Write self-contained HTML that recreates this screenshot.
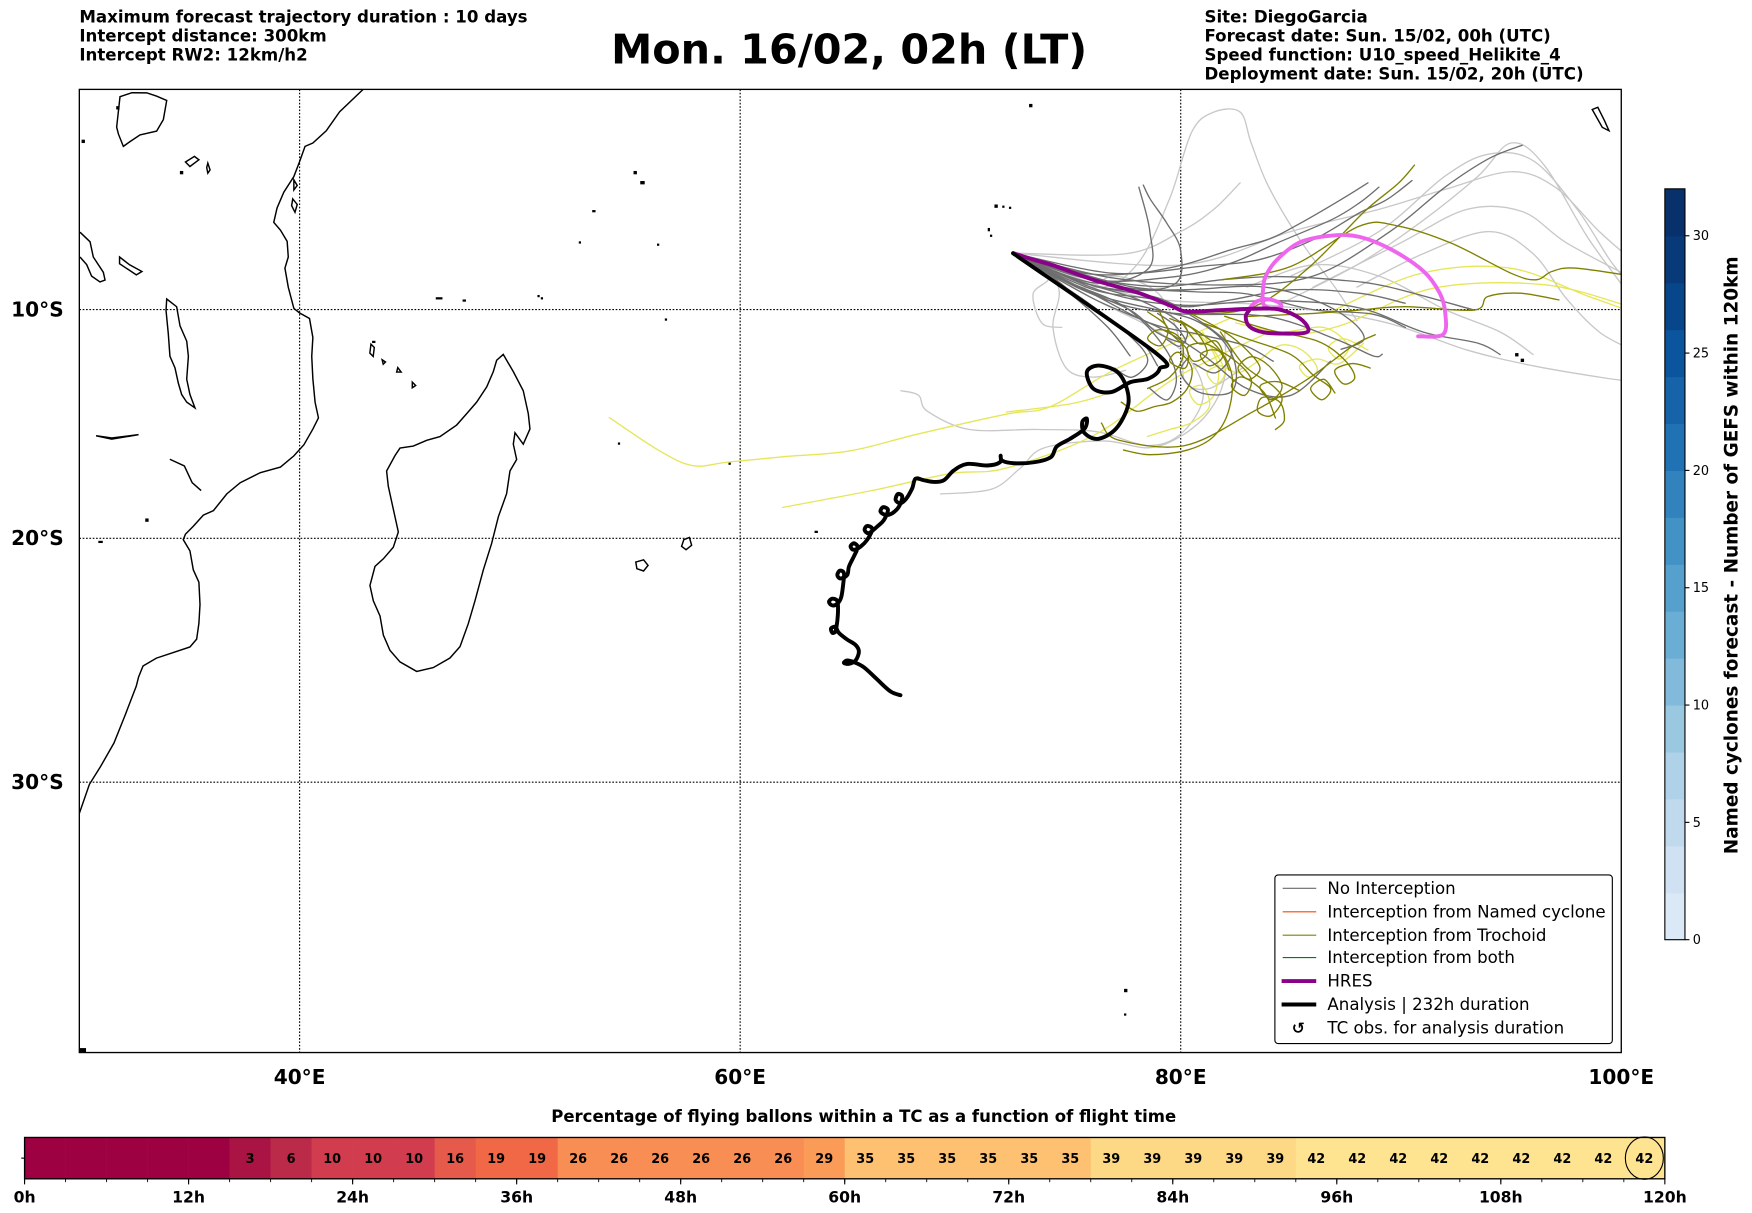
<!DOCTYPE html>
<html><head><meta charset="utf-8">
<style>
html,body{margin:0;padding:0;background:#fff;}
svg{display:block;font-family:"DejaVu Sans","Liberation Sans",sans-serif;}
.hdr{font-size:14.9px;font-weight:bold;}
</style></head>
<body>
<svg id="fig" width="1752" height="1213" viewBox="0 0 1568 1085.6" xmlns="http://www.w3.org/2000/svg">
<defs><clipPath id="plotclip"><rect x="71" y="80" width="1380" height="862"/></clipPath></defs>
<g class="hdr">
<text x="71" y="20">Maximum forecast trajectory duration : 10 days</text>
<text x="71" y="37">Intercept distance: 300km</text>
<text x="71" y="54">Intercept RW2: 12km/h2</text>
</g>
<text x="760" y="57" text-anchor="middle" font-size="37" font-weight="bold">Mon. 16/02, 02h (LT)</text>
<g class="hdr">
<text x="1078" y="20">Site: DiegoGarcia</text>
<text x="1078" y="37">Forecast date: Sun. 15/02, 00h (UTC)</text>
<text x="1078" y="54">Speed function: U10_speed_Helikite_4</text>
<text x="1078" y="71">Deployment date: Sun. 15/02, 20h (UTC)</text>
</g>
<g id="map">
<rect x="71" y="80" width="1380" height="862" fill="#fff"/>
<g fill="none" stroke="#000" stroke-width="1.3" clip-path="url(#plotclip)">
<path d="M325,80 L304,100 L292,117 L280,128 L273,131 L268,145 L263,158 L254,172 L248,186 L245,199 L251,206 L257,216 L258,230 L255,240 L258,257 L263,276 L268,280 L277,285 L280,302 L279,319 L280,339 L282,360 L285,374 L280,384 L272,398 L263,408 L251,418 L233,423 L215,432 L203,442 L191,457 L182,461 L173,471 L166,478 L164,483 L170,493 L173,510 L178,521 L179,541 L178,558 L176,572 L170,579 L155,584 L140,589 L128,596 L124,606 L122,614 L112,640 L102,665 L90,686 L80,702 L71,728"/>
<path d="M450.4,317.2 L459.4,332.6 L468.3,349.7 L472.8,370.2 L474.3,383.9 L468.3,397.5 L460.9,387.3 L459.4,397.5 L462.4,411.2 L456.4,421.5 L453.4,441.9 L446,462.5 L440,486.4 L432.5,510.3 L425.1,537.7 L419.1,558.2 L411.7,578.7 L402.7,588.9 L387.8,597.5 L372.9,600.9 L358,592.4 L349,582.1 L343.1,568.4 L340.1,551.3 L334.1,537.7 L331.1,524 L335.6,506.9 L343.1,500.1 L352,489.8 L356.5,476.1 L353.5,462.5 L350.5,448.8 L347.5,435.1 L346,421.5 L353.5,407.8 L358,401 L369.9,399.2 L381.9,394.1 L393.8,390.7 L408.7,380.4 L417.7,370.2 L426.6,359.9 L435.6,346.3 L441.5,332.6 L444.5,322.4 Z"/>
<path d="M149.2,267.6 L158.1,274.5 L161.1,291.6 L167.1,305.3 L168.6,318.9 L167.1,339.4 L170,353.1 L174.5,365.1 L167.1,359.9 L162.6,353.1 L159.6,342.9 L156.6,329.2 L152.1,318.9 L150.6,298.4 L148.6,277.9 Z"/>
<path d="M71.6,207.8 L80.6,216.4 L83.5,230 L92.5,243.7 L94,250.6 L89.5,252.3 L82,247.1 L77.6,236.9 L71.6,230"/>
<path d="M107.4,86.5 L118,83 L131.3,83.1 L140,86 L149.2,89.9 L146.2,107 L140.2,117.3 L125.3,120.7 L116,127 L110.4,131 L106,120 L104.4,113.8 Z"/>
<path d="M107,230 L116,237 L127,243 L122,246 L113,240 L107,236 Z"/>
<path d="M86,390 L100,392 L124,389 L100,393 Z"/>
<path d="M152,411 L165,417 L172,432 L180,439"/>
<path d="M262,178 L266,183 L264,190 L261,184 Z"/>
<path d="M263,161 L266,166 L263,170 Z"/>
<path d="M332,308 L335,311 L334,319 L331,316 Z M342,322 L345,324 L343,326 Z M356,329 L359,333 L355,333 Z M369,342 L372,345 L369,347 Z"/>
<path d="M166,145 L174,140 L178,143 L170,149 Z"/>
<path d="M186,146 L188,152 L186,155 L185,150 Z"/>
<path d="M569,503 L576,501 L580,506 L576,511 L570,509 Z"/>
<path d="M612,483 L617,481 L619,488 L614,492 L610,489 Z"/>
<path d="M1425,98 L1430,96 L1436,108 L1440,117 L1434,114 Z"/>
</g>
<g fill="#000" clip-path="url(#plotclip)">
<rect x="890" y="183" width="3" height="3"/><rect x="897" y="184" width="2" height="2"/><rect x="903" y="185" width="2" height="2"/>
<rect x="884" y="204" width="2" height="3"/><rect x="886" y="210" width="2" height="2"/>
<rect x="921" y="93" width="3" height="3"/><rect x="567" y="153" width="3" height="3"/><rect x="573" y="162" width="4" height="3"/>
<rect x="530" y="188" width="3" height="2"/><rect x="518" y="216" width="2" height="2"/><rect x="588" y="218" width="2" height="2"/>
<rect x="390" y="266" width="6" height="2"/><rect x="414" y="268" width="3" height="2"/><rect x="481" y="264" width="2" height="2"/>
<rect x="484" y="266" width="2" height="2"/><rect x="595" y="285" width="2" height="2"/><rect x="333" y="305" width="3" height="2"/>
<rect x="553" y="396" width="2" height="2"/><rect x="652" y="414" width="2" height="2"/><rect x="729" y="475" width="3" height="2"/>
<rect x="1356" y="316" width="3" height="3"/><rect x="1361" y="321" width="3" height="3"/>
<rect x="1006" y="885" width="3" height="3"/><rect x="1006" y="907" width="2" height="2"/>
<rect x="130" y="464" width="3" height="3"/><rect x="88" y="484" width="4" height="2"/><rect x="104" y="95" width="3" height="3"/>
<rect x="73" y="125" width="3" height="3"/><rect x="161" y="153" width="3" height="3"/><rect x="71" y="938" width="6" height="4"/>
</g>
<g id="grid" stroke="#000" stroke-width="1" stroke-dasharray="1.5,1.5" fill="none"></g>
<g id="traj" fill="none" clip-path="url(#plotclip)" stroke-linejoin="round" stroke-linecap="round"></g>
<rect x="71" y="80" width="1380" height="862" fill="none" stroke="#000" stroke-width="1.2"/>
<g id="axlabels" font-size="18" font-weight="bold"></g>
</g>
<g font-size="14.9">
<rect x="1141" y="783" width="302" height="151" rx="3" fill="#fff" stroke="#000" stroke-width="1"/>
<g><line x1="1148" y1="795" x2="1178" y2="795" stroke="#696969" stroke-width="1"/><text x="1188" y="800">No Interception</text></g>
<g><line x1="1148" y1="816" x2="1178" y2="816" stroke="#ff4500" stroke-width="1"/><text x="1188" y="821">Interception from Named cyclone</text></g>
<g><line x1="1148" y1="837" x2="1178" y2="837" stroke="#808000" stroke-width="1"/><text x="1188" y="842">Interception from Trochoid</text></g>
<g><line x1="1148" y1="857" x2="1178" y2="857" stroke="#008000" stroke-width="1"/><text x="1188" y="862">Interception from both</text></g>
<g><line x1="1147" y1="878" x2="1178" y2="878" stroke="#8b008b" stroke-width="3.5"/><text x="1188" y="883">HRES</text></g>
<g><line x1="1147" y1="899" x2="1178" y2="899" stroke="#000" stroke-width="3.5"/><text x="1188" y="904">Analysis | 232h duration</text></g>
<g><text x="1162" y="925" text-anchor="middle" font-weight="bold" font-size="14">↺</text><text x="1188" y="925">TC obs. for analysis duration</text></g>
</g>
<g id="cbar"></g>
<text transform="translate(1555,497) rotate(-90)" text-anchor="middle" font-size="16.5" font-weight="bold">Named cyclones forecast - Number of GEFS within 120km</text>
<text x="773" y="1004" text-anchor="middle" font-size="14.8" font-weight="bold">Percentage of flying ballons within a TC as a function of flight time</text>
<g id="hbar"></g>
</svg>
<script>
// ---- map data (lon / lat in degrees) ----
const lonTicks = [40, 60, 80, 100];
const lonTickLabels = ["40°E", "60°E", "80°E", "100°E"];
const latTicks = [-10, -20, -30];
const latTickLabels = ["10°S", "20°S", "30°S"];
const START = [72.38, -7.47];
const analysisLon = [72.39,78.83,79.04,78.53,77.72,76.85,76.04,75.74,76.24,77.06,77.51,77.61,77.06,76.24,75.63,75.53,75.74,75.63,74.97,74.37,74.10,73.34,72.43,71.90,71.82,71.79,71.22,70.31,69.70,69.25,68.80,68.34,67.96,67.81,67.55,67.28,67.06,67.16,67.36,67.21,66.90,66.60,66.37,66.49,66.71,66.53,66.22,65.84,65.65,65.77,66.00,65.77,65.47,65.16,65.01,65.16,65.34,65.16,64.94,64.86,64.56,64.41,64.53,64.71,64.68,64.59,64.41,64.18,64.03,64.18,64.41,64.44,64.41,64.33,64.18,64.13,64.33,64.48,64.86,65.24,65.39,65.24,64.94,64.71,64.86,65.16,65.62,66.22,66.83,67.28];
const analysisLat = [-7.48,-11.90,-12.63,-13.07,-13.22,-13.66,-13.51,-12.78,-12.49,-12.73,-13.37,-14.24,-15.27,-15.71,-15.46,-14.98,-14.83,-15.27,-15.71,-16.05,-16.51,-16.73,-16.77,-16.66,-16.44,-16.73,-16.87,-16.80,-17.08,-17.51,-17.58,-17.51,-17.44,-17.86,-18.29,-18.50,-18.36,-18.10,-18.22,-18.64,-18.93,-19.00,-18.86,-18.67,-18.79,-19.21,-19.50,-19.78,-19.64,-19.47,-19.61,-20.06,-20.35,-20.49,-20.35,-20.21,-20.38,-20.77,-21.20,-21.56,-21.70,-21.56,-21.37,-21.48,-21.91,-22.48,-22.76,-22.83,-22.69,-22.55,-22.65,-23.05,-23.47,-23.90,-23.97,-23.79,-23.73,-23.97,-24.25,-24.47,-24.75,-25.11,-25.25,-25.21,-25.11,-25.18,-25.39,-25.89,-26.38,-26.53];
const hresLon = [72.39,73.33,74.37,76.03,78.12,79.58,80.31,81.87,83.74,84.58,85.41,85.78,85.62,84.58,83.74,83.12,82.95,83.12];
const hresLat = [-7.47,-7.77,-8.07,-8.67,-9.27,-9.84,-10.09,-10.02,-9.95,-10.02,-10.39,-10.82,-11.04,-11.07,-11.01,-10.75,-10.31,-10.02];
const pinkLon = [83.12,83.43,83.95,84.47,84.53,84.06,83.74,83.74,83.85,84.37,85.41,86.87,88.12,89.58,91.03,91.76,92.01,91.91,90.78];
const pinkLat = [-9.95,-9.65,-9.54,-9.69,-9.90,-9.95,-9.72,-9.12,-8.52,-7.77,-6.98,-6.68,-6.74,-7.32,-8.29,-9.27,-10.17,-11.11,-11.19];
// ensemble members: [lon,lat] pairs
const noInterceptDark = [
 [START,[75.61,-8.52],[78.95,-8.97],[81.86,-8.67],[84.36,-8.52],[87.07,-8.67],[89.36,-8.97],[93.32,-10.02]],
 [START,[75.61,-8.82],[78.74,-9.42],[80.19,-9.87],[82.28,-9.57],[84.99,-9.12],[88.11,-9.27],[90.19,-9.72]],
 [START,[75.20,-8.97],[77.70,-10.02],[78.95,-11.04],[80.19,-11.48],[79.78,-10.75],[78.95,-10.17]],
 [START,[74.57,-8.97],[76.65,-10.75],[77.70,-12.06]],
 [START,[76.03,-9.27],[78.95,-10.02],[80.61,-10.46],[81.86,-11.33],[82.49,-12.50],[82.28,-13.66],[80.82,-13.66],[79.99,-12.79],[80.40,-12.06]],
 [START,[75.61,-8.37],[78.11,-8.37],[80.82,-8.07],[83.53,-7.77],[86.03,-6.86],[88.11,-5.66],[89.36,-5.06],[90.5,-4.2]],
 [START,[76.03,-8.67],[79.78,-8.52],[82.28,-7.92],[84.36,-7.02],[86.86,-5.96],[88.11,-5.21],[89,-4.5]],
 [START,[76.65,-9.57],[79.78,-10.17],[83.94,-10.31],[87.07,-11.33],[88.73,-12.06],[89.15,-11.99]],
 [START,[75.20,-8.67],[78.11,-9.57],[80.19,-10.75],[79.99,-11.62],[79.36,-11.33]],
 [START,[74.15,-8.52],[76.03,-10.02],[78.11,-11.33],[78.95,-12.50]],
 [START,[76.24,-8.97],[79.99,-9.12],[83.53,-8.97],[86.03,-9.57],[87.69,-10.46],[88.32,-11.33],[87.28,-11.77]],
 [START,[77.70,-8.97],[79.78,-8.82],[79.99,-7.32],[79.36,-6.11],[78.63,-5.06],[78.3,-4.4]],
 [START,[76.86,-8.37],[79.78,-8.07],[82.28,-7.32],[83.94,-6.86],[85.19,-6.26],[87.28,-5.06],[88.5,-4.3]],
 [START,[77,-8.6],[82,-8.9],[86,-8.5],[89.5,-6.5],[92,-4.5],[94,-3.2],[95.5,-2.6]],
 [START,[76,-8.8],[78.5,-8.2],[78.6,-6.5],[78.1,-4.5]],
 [START,[76,-9.5],[79,-10.8],[81,-12],[83,-13.5],[85,-13.8],[86.8,-12.3]],
 [START,[76.5,-9.2],[80,-9.8],[84,-9.6],[88,-9.9],[91,-11],[93.5,-11.5],[94.5,-12]],
 [START,[75.5,-9.5],[77.5,-11],[78.5,-12.2],[77.8,-13],[77,-12.6]],
 [START,[76,-9.1],[79,-9.6],[81,-10.6],[82.3,-11.8],[81.6,-12.8],[80.6,-12.4]],
 [START,[75,-8.8],[77.5,-9.9],[79.2,-11.6],[79.8,-13],[79.4,-14],[78.6,-13.5]],
 [START,[76.8,-8.9],[80.5,-9.2],[83,-9.3],[86,-10],[88.7,-10.2],[90.2,-10.8]],
 [START,[76,-9.3],[78.6,-10.6],[80.8,-11.1],[82.9,-11.6],[84.2,-12.3]]
];
const noInterceptLight = [
 [START,[74.4,-8.9],[74.2,-10.8],[74.8,-12.6],[76,-13],[77.5,-12.7]],
 [START,[76,-9.5],[79,-11],[80.6,-12.5],[81,-14],[80,-15.5],[78.5,-16],[76.2,-15.4],[73.5,-15.3],[70.4,-15.3],[68.5,-14.5],[68.1,-13.8],[67.3,-13.6]],
 [[82,-11],[82,-13],[81.3,-14.5],[80,-15.6],[78.5,-16.1],[76.5,-15.8],[73.8,-16.1],[72.7,-17],[71.4,-17.9],[69.1,-18.1]],
 [START,[78,-9.4],[84,-9.8],[89,-10.5],[93,-11.8],[96,-12.5],[99,-13],[100.5,-13.2]],
 [START,[80,-8],[85,-6.5],[89,-5.5],[92,-4.6],[95,-3.8],[97,-4.5],[99,-6.5],[100.5,-7.8]],
 [[85,-8.5],[89,-6.5],[92,-4],[94,-3],[96,-3.3],[98,-5.5],[99.5,-7.8],[100.5,-9]],
 [START,[76,-9],[78,-8],[79.5,-5],[80.5,-2],[81.5,-1.1],[82.7,-1.1],[83.2,-2.5],[84,-4.5],[85.5,-7],[87,-9],[88,-10.5]],
 [START,[75.5,-9],[77,-8.5],[79,-9.3],[80,-11.5],[80.2,-13.2],[81.3,-13.5],[82.8,-12.6]],
 [[86,-9],[90,-7],[93,-5.5],[95.5,-5.6],[97.5,-7],[100.5,-8.6]],
 [[84,-10],[88,-8],[91,-6],[93.5,-4],[95,-2.5],[96.5,-3.5],[98.5,-6.8],[100.5,-9.5]],
 [[83,-9],[86,-8],[89,-8.5],[92,-10],[94.5,-11],[96,-12]],
 [START,[77.5,-7.5],[80,-6.5],[81.5,-5.5],[82.7,-4.3]],
 [START,[74,-8.5],[73.3,-9.3],[73.7,-10.6],[74.6,-10.8]],
 [[88,-9],[91,-7.5],[94,-6.5],[96,-7.5],[97.5,-9.5],[99,-11],[100.5,-11.8]]
];
const trochoid = [
 [[81.86,-8.67],[84.99,-8.07],[88.11,-6.26],[89.78,-6.23],[92.28,-7.02],[94.99,-8.37],[96.13,-8.67],[96.86,-8.29],[97.90,-8.14],[100.5,-8.5]],
 [[82.90,-10.31],[86.03,-10.17],[88.11,-10.02],[90.19,-9.87],[93.32,-10.02],[93.94,-9.42],[95.40,-9.27],[97.17,-9.57]],
 [[80.5,-10.2],[83.25,-9.90],[85.79,-8.14],[88.32,-5.62],[89.85,-4.35],[90.61,-3.50]],
 [[76.40,-15.02],[77.16,-15.76],[80.20,-16.00],[83.25,-14.54],[85.79,-13.07],[87.82,-11.61],[88.83,-11.12]],
 [[80.5,-10.2],[82,-11],[83,-11.8],[83.6,-12.6],[83.1,-13.1],[82.6,-12.6],[83.2,-12.1],[84,-12.5],[84.6,-13.4],[84.1,-14],[83.6,-13.4],[84.4,-13.2],[85.4,-13.6]],
 [[80,-10.5],[80.8,-11.5],[81.6,-11.4],[81.9,-12.1],[81.3,-12.5],[80.9,-12],[81.6,-11.8],[82.5,-12.3],[83.2,-13.1],[82.9,-13.8],[82.3,-13.4],[82.8,-13],[83.8,-13.7],[84.3,-14.8]],
 [[79,-10],[79.5,-11],[80.3,-11.8],[80.2,-12.6],[79.5,-12.3],[79.9,-11.9],[80.5,-12.6],[80.3,-13.5],[79.6,-14.1],[78.8,-14.3],[78,-14.5],[77.3,-14.1]],
 [[81.8,-11],[82.9,-12.5],[84.2,-13.4],[84.6,-14],[84.1,-14.7],[83.5,-14.5],[83.7,-13.9],[84.5,-14.1],[84.7,-14.9],[84.3,-15.3]],
 [[82,-10.3],[84,-10.9],[86.2,-11.4],[87.4,-12.2],[87.9,-13],[87.4,-13.3],[87,-12.7],[87.8,-12.4],[88.6,-12.6]],
 [[81,-10.6],[83,-11.3],[85,-12],[86,-12.9],[86.8,-13.5],[86.4,-14],[85.9,-13.5],[86.5,-13.1],[87,-13.7]],
 [[80,-10.5],[81.5,-11.5],[82.3,-12.8],[82.2,-14.4],[81.5,-15.6],[80.3,-16.2],[78.6,-16.4],[77.4,-16.2]],
 [[79.5,-10.4],[80.6,-10.9],[81.2,-11.9],[80.6,-12.3],[80.3,-11.7],[81,-11.5],[81.8,-11.9],[82.2,-12.7]],
 [[78.5,-10.1],[79.4,-10.8],[79.1,-11.6],[78.5,-11.3],[79,-10.9],[79.9,-11.2],[80.1,-12.1],[79.5,-13],[78.5,-13.5]]
];
const trochoidLight = [
 [[82.23,-10.39],[77.16,-12.59],[74.11,-14.29],[72.08,-14.63],[68.02,-15.51],[64.97,-16.24],[61.93,-16.49],[59.39,-16.73],[57.87,-16.88],[56.35,-16.24],[54.06,-14.78]],
 [[83.76,-11.12],[79.70,-13.07],[76.14,-15.51],[72.08,-16.98],[69.54,-17.22],[65.99,-17.95],[61.93,-18.68]],
 [[77.16,-13.56],[75.13,-14.15],[72.08,-14.54]],
 [[86.80,-10.10],[90.86,-8.39],[94.92,-8.14],[98.48,-9.40],[100.5,-10.1]],
 [[85.5,-11.12],[87.5,-10.63],[91.5,-9.04],[96.5,-8.89],[100.5,-9.9]],
 [[80.5,-10.8],[81.5,-11.8],[82,-12.8],[81.6,-13.3],[81.2,-12.8],[81.8,-12.5],[82.6,-12.8],[83.5,-12.3],[84.5,-11.6],[85.5,-11.8],[86.2,-12.6],[85.8,-13],[85.4,-12.5],[86.2,-12.2],[87.2,-12.4],[88.3,-11.5]],
 [[81,-11],[81.7,-12.5],[81.5,-13.8],[80.8,-14.2],[80.4,-13.6],[81,-13.4],[81.3,-14.3],[80.5,-15],[79.5,-15.3],[78.5,-15.6]],
 [[82.5,-10.6],[84.5,-11],[86.5,-10.8],[87.6,-11.6],[87.2,-12.2],[86.7,-11.7],[87.4,-11.3],[88.5,-11.8]]
];
// ---- colorbar data ----
const cbarTicks = [0, 5, 10, 15, 20, 25, 30];
const cbarMax = 32;
const cbarBandColors = ["#dbe8f5","#cfe1f2","#c1d9ed","#b0d2e8","#9ac8e0","#82badb","#6aaed6","#56a0ce","#4292c6","#3282be","#2171b5","#1663aa","#0b559f","#08468b","#083a7a","#08306b"];
// ---- flight-time bar data ----
const hourTicks = [0, 12, 24, 36, 48, 60, 72, 84, 96, 108, 120];
const pctValues = [0,0,0,0,0,3,6,10,10,10,16,19,19,26,26,26,26,26,26,29,35,35,35,35,35,35,39,39,39,39,39,42,42,42,42,42,42,42,42,42];
const circledCell = 39;

// ---- axis functions ----
const PX0 = 71, PX1 = 1451, PY0 = 80, PY1 = 942;
function xLon(lon){ return PX0 + (lon - 30) * (PX1 - PX0) / 70; }
function merc(latDeg){ const p = -latDeg * Math.PI / 180; return Math.log(Math.tan(Math.PI/4 + p/2)); }
function yLat(lat){ return 78.6 + 1131.3 * merc(lat); }
const NS = "http://www.w3.org/2000/svg";
function mk(tag, attrs, parent){ const e = document.createElementNS(NS, tag); for (const k in attrs) e.setAttribute(k, attrs[k]); parent.appendChild(e); return e; }
function smoothPath(pts){
  if (pts.length < 2) return "";
  let d = "M" + pts[0][0].toFixed(1) + "," + pts[0][1].toFixed(1);
  for (let i = 0; i < pts.length - 1; i++){
    const p0 = pts[i-1] || pts[i], p1 = pts[i], p2 = pts[i+1], p3 = pts[i+2] || p2;
    const c1 = [p1[0] + (p2[0]-p0[0])/6, p1[1] + (p2[1]-p0[1])/6];
    const c2 = [p2[0] - (p3[0]-p1[0])/6, p2[1] - (p3[1]-p1[1])/6];
    d += " C" + c1[0].toFixed(1) + "," + c1[1].toFixed(1) + " " + c2[0].toFixed(1) + "," + c2[1].toFixed(1) + " " + p2[0].toFixed(1) + "," + p2[1].toFixed(1);
  }
  return d;
}
function pairsToPx(list){ return list.map(p => [xLon(p[0]), yLat(p[1])]); }
function zipToPx(lons, lats){ return lons.map((v, i) => [xLon(v), yLat(lats[i])]); }

// gridlines + labels
const grid = document.getElementById("grid");
const axl = document.getElementById("axlabels");
lonTicks.forEach((lon, i) => {
  if (lon < 100) {
    const l = mk("line", {x1: xLon(lon), x2: xLon(lon), y1: PY0, y2: PY1}, grid);
    
    
  }
  const t = mk("text", {x: xLon(lon), y: 970, "text-anchor": "middle"}, axl);
  t.textContent = lonTickLabels[i];
  
  
});
latTicks.forEach((lat, i) => {
  const l = mk("line", {x1: PX0, x2: PX1, y1: yLat(lat), y2: yLat(lat)}, grid);
  
  
  const t = mk("text", {x: 57, y: yLat(lat) + 6, "text-anchor": "end"}, axl);
  t.textContent = latTickLabels[i];
  
  
});

// trajectories
const traj = document.getElementById("traj");
function drawSet(sets, color, width, name){
  sets.forEach(s => {
    const p = mk("path", {d: smoothPath(pairsToPx(s)), stroke: color, "stroke-width": width}, traj);
    
    
  });
}
drawSet(noInterceptLight, "#c8c8c8", 1.2, 'member-track-light');
drawSet(trochoidLight, "#e6e65a", 1.2, 'trochoid-track-light');
drawSet(noInterceptDark, "#6e6e6e", 1.2, 'no-interception-track');
drawSet(trochoid, "#808000", 1.2, 'trochoid-track');
const pk = mk("path", {d: smoothPath(zipToPx(pinkLon, pinkLat)), stroke: "#ee66ee", "stroke-width": 3.5}, traj);


const hr = mk("path", {d: smoothPath(zipToPx(hresLon, hresLat)), stroke: "#8b008b", "stroke-width": 3.5}, traj);


const an = mk("path", {d: smoothPath(zipToPx(analysisLon, analysisLat)), stroke: "#000", "stroke-width": 3.5}, traj);



// colorbar
const cb = document.getElementById("cbar");
const CBX = 1490, CBW = 18, CBY0 = 841, CBY1 = 169;
function yCb(v){ return CBY0 - (CBY0 - CBY1) * v / cbarMax; }
cbarBandColors.forEach((c, i) => {
  const v0 = i * cbarMax / cbarBandColors.length, v1 = (i + 1) * cbarMax / cbarBandColors.length;
  const r = mk("rect", {x: CBX, y: yCb(v1), width: CBW, height: yCb(v0) - yCb(v1) + 0.5, fill: c}, cb);
  
  
});
const cbf = mk("rect", {x: CBX, y: CBY1, width: CBW, height: CBY0 - CBY1, fill: "none", stroke: "#000", "stroke-width": 1}, cb);


cbarTicks.forEach(v => {
  const l = mk("line", {x1: CBX + CBW, x2: CBX + CBW + 4, y1: yCb(v), y2: yCb(v), stroke: "#000"}, cb);
  
  
  const t = mk("text", {x: CBX + CBW + 7, y: yCb(v) + 4, "font-size": 11.5}, cb);
  t.textContent = v;
  
  
});

// flight-time bar
const hb = document.getElementById("hbar");
const HX0 = 22, HX1 = 1490, HY0 = 1018, HY1 = 1055, HMAX = 120;
function xH(h){ return HX0 + (HX1 - HX0) * h / HMAX; }
function pctColor(v){
  if (v <= 0) return "#9e0142";
  if (v <= 3) return "#aa1444";
  if (v <= 6) return "#bc2a4a";
  if (v <= 10) return "#d23c4f";
  if (v <= 16) return "#e55a4a";
  if (v <= 19) return "#f06845";
  if (v <= 26) return "#f88e53";
  if (v <= 29) return "#fa9b58";
  if (v <= 35) return "#fdc171";
  if (v <= 39) return "#fdd885";
  return "#fee491";
}
const cellH = HMAX / pctValues.length;
pctValues.forEach((v, i) => {
  const r = mk("rect", {x: xH(i*cellH), y: HY0, width: xH((i+1)*cellH) - xH(i*cellH) + 0.3, height: HY1 - HY0, fill: pctColor(v)}, hb);
  
  
  if (v > 0) {
    const t = mk("text", {x: xH((i+0.5)*cellH), y: (HY0+HY1)/2 + 4.5, "text-anchor": "middle", "font-size": 11.5, "font-weight": "bold"}, hb);
    t.textContent = v;
    
    
  }
  const tk = mk("line", {x1: xH(i*cellH), x2: xH(i*cellH), y1: HY1, y2: HY1 + 3, stroke: "#000", "stroke-width": 0.8}, hb);
  
  
});
const hf = mk("rect", {x: HX0, y: HY0, width: HX1 - HX0, height: HY1 - HY0, fill: "none", stroke: "#000", "stroke-width": 1.2}, hb);


const circ = mk("ellipse", {cx: xH((circledCell+0.5)*cellH), cy: (HY0+HY1)/2, rx: 17, ry: 19, fill: "none", stroke: "#000", "stroke-width": 1}, hb);


const yt = mk("line", {x1: HX0 - 3, x2: HX0, y1: (HY0+HY1)/2, y2: (HY0+HY1)/2, stroke: "#000"}, hb);


hourTicks.forEach(h => {
  const l = mk("line", {x1: xH(h), x2: xH(h), y1: HY1, y2: HY1 + 5, stroke: "#000", "stroke-width": 1}, hb);
  
  
  const t = mk("text", {x: xH(h), y: 1076, "text-anchor": "middle", "font-size": 14, "font-weight": "bold"}, hb);
  t.textContent = h + "h";
  
  
});
</script>
</body></html>
